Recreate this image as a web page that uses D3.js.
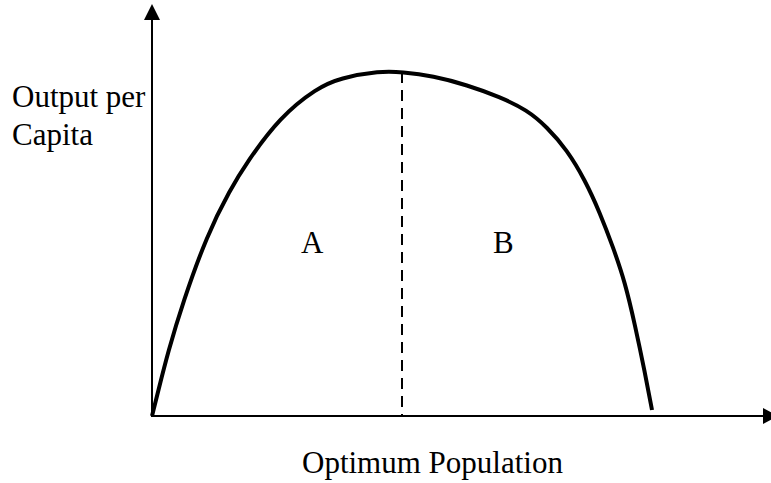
<!DOCTYPE html>
<html>
<head>
<meta charset="utf-8">
<script src="https://cdn.jsdelivr.net/npm/d3@7"></script>
<style>
  body { margin: 0; background: #fff; }
  text { font-family: "Liberation Serif", "Times New Roman", serif; fill: #000; }
</style>
</head>
<body>
<div id="chart"></div>
<script>
// population (x) and output per capita (y), in chart units
var population = [0, 6, 16, 31, 55, 78, 95, 128, 165, 188, 228, 250, 281, 315,
    348, 375, 395, 415, 433, 448, 461, 473, 483, 493, 500];
var output = [0, 24, 64, 114, 181, 226, 254, 299, 328, 338, 345, 344, 340, 331,
    319, 306, 289, 266, 236, 203, 169, 134, 91, 43, 6];

var optimum = 250;        // optimum population, where the dashed line sits
var peakOutput = 344;
var regionLabels = [{ name: 'A', x: 149, y: 163 }, { name: 'B', x: 341, y: 163 }];

var width = 771, height = 483;
var origin = { x: 152, y: 416 };

var xScale = d3.scaleLinear().domain([0, 618]).range([origin.x, 770]);
var yScale = d3.scaleLinear().domain([0, 412]).range([origin.y, 4]);

var svg = d3.select('#chart').append('svg')
    .attr('width', width)
    .attr('height', height);

// axes with arrow heads
svg.append('line')
    .attr('x1', origin.x).attr('y1', origin.y)
    .attr('x2', origin.x).attr('y2', 18)
    .style('stroke', '#000').style('stroke-width', 2);
svg.append('path')
    .attr('d', 'M' + origin.x + ',4 L' + (origin.x - 8) + ',20 L' + (origin.x + 8) + ',20 Z')
    .style('fill', '#000');

svg.append('line')
    .attr('x1', origin.x - 1).attr('y1', origin.y)
    .attr('x2', 765).attr('y2', origin.y)
    .style('stroke', '#000').style('stroke-width', 2);
svg.append('path')
    .attr('d', 'M778,' + origin.y + ' L763,' + (origin.y - 8) + ' L763,' + (origin.y + 8) + ' Z')
    .style('fill', '#000');

// curve
var pts = population.map(function(d, i) { return [d, output[i]]; });
var line = d3.line()
    .x(function(d) { return xScale(d[0]); })
    .y(function(d) { return yScale(d[1]); })
    .curve(d3.curveBasis);

svg.append('path')
    .datum(pts)
    .attr('d', line)
    .style('fill', 'none')
    .style('stroke', '#000')
    .style('stroke-width', 4);

// dashed optimum line
svg.append('line')
    .attr('x1', xScale(optimum)).attr('y1', yScale(peakOutput))
    .attr('x2', xScale(optimum)).attr('y2', origin.y)
    .style('stroke', '#000')
    .style('stroke-width', 2)
    .style('stroke-dasharray', '11,7');

// labels
svg.selectAll('.region').data(regionLabels)
    .enter().append('text')
    .attr('class', 'region')
    .attr('x', function(d) { return xScale(d.x); })
    .attr('y', function(d) { return yScale(d.y); })
    .style('font-size', '31px')
    .text(function(d) { return d.name; });

svg.append('text').attr('x', 12).attr('y', 107).style('font-size', '31px').text('Output per');
svg.append('text').attr('x', 12).attr('y', 145).style('font-size', '31px').text('Capita');
svg.append('text').attr('x', 302).attr('y', 473).style('font-size', '31px').text('Optimum Population');
</script>
</body>
</html>
